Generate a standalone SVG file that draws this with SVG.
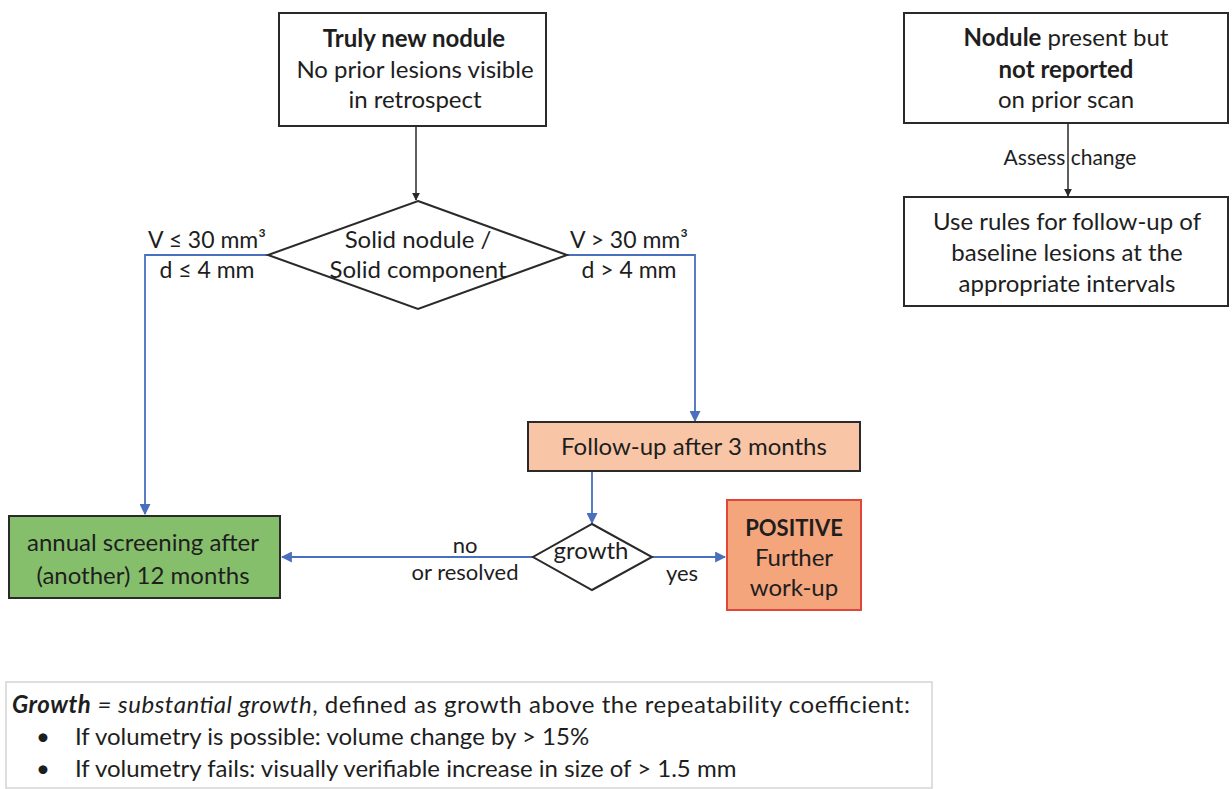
<svg xmlns="http://www.w3.org/2000/svg" width="1232" height="789" viewBox="0 0 1232 789">
<defs>
<style>
text{font-family:Lato,"Open Sans","Liberation Sans",sans-serif;fill:#1e1e1e;font-size:24px}
.c{text-anchor:middle}
.b{font-weight:bold}
.lb{font-size:23px}
.box{stroke:#2a2a2a;stroke-width:2;fill:#fff}
.blk{stroke:#2a2a2a;stroke-width:1.5;fill:none}
.blu{stroke:#4a6fbf;stroke-width:1.8;fill:none}
</style>
<marker id="ak" viewBox="0 0 10 10" refX="9" refY="5" markerWidth="8" markerHeight="8" markerUnits="userSpaceOnUse" orient="auto"><path d="M0,0 L10,5 L0,10 z" fill="#2a2a2a"/></marker>
<marker id="ab" viewBox="0 0 10 10" refX="9" refY="5" markerWidth="11" markerHeight="11" markerUnits="userSpaceOnUse" orient="auto"><path d="M0,0 L10,5 L0,10 z" fill="#4a6fbf"/></marker>
</defs>
<rect width="1232" height="789" fill="#fff"/>

<g id="connectors">
<line class="blk" x1="416" y1="126" x2="416" y2="200" marker-end="url(#ak)"/>
<line class="blk" x1="1068" y1="123" x2="1068" y2="196" marker-end="url(#ak)"/>
<polyline class="blu" points="268,255 145,255 145,514" marker-end="url(#ab)"/>
<polyline class="blu" points="567,255 695,255 695,421" marker-end="url(#ab)"/>
<line class="blu" x1="592" y1="471" x2="592" y2="523" marker-end="url(#ab)"/>
<line class="blu" x1="533" y1="557" x2="282" y2="557" marker-end="url(#ab)"/>
<line class="blu" x1="652" y1="557" x2="725" y2="557" marker-end="url(#ab)"/>
<text class="c" x="1070" y="165" style="font-size:21px">Assess  change</text>
<text class="c lb" x="207" y="248">V ≤ 30 mm³</text>
<text class="c lb" x="207" y="278">d ≤ 4 mm</text>
<text class="c lb" x="629" y="248">V &gt; 30 mm³</text>
<text class="c lb" x="629" y="278">d &gt; 4 mm</text>
<text class="c" x="465" y="553" style="font-size:22px">no</text>
<text class="c" x="465" y="580" style="font-size:22px">or resolved</text>
<text class="c" x="682" y="581" style="font-size:22px">yes</text>
</g>

<g id="n-new">
<rect class="box" x="279" y="13" width="267" height="113"/>
<text class="c b" x="414" y="47">Truly new nodule</text>
<text class="c" x="415" y="78">No prior lesions visible</text>
<text class="c" x="415" y="108">in retrospect</text>
</g>

<g id="n-notreported">
<rect class="box" x="904" y="13" width="324" height="110"/>
<text class="c" x="1066" y="46"><tspan class="b">Nodule</tspan> present but</text>
<text class="c b" x="1066" y="78">not reported</text>
<text class="c" x="1066" y="108">on prior scan</text>
</g>

<g id="n-rules">
<rect class="box" x="904" y="197" width="324" height="109"/>
<text class="c" x="1067" y="230">Use rules for follow-up of</text>
<text class="c" x="1067" y="261">baseline lesions at the</text>
<text class="c" x="1067" y="292">appropriate intervals</text>
</g>

<g id="n-solid">
<polygon class="box" points="418,201 567,255 418,309 268,255"/>
<text class="c" x="418" y="248">Solid nodule /</text>
<text class="c" x="418" y="278">Solid component</text>
</g>

<g id="n-followup">
<rect class="box" x="528" y="422" width="332" height="49" style="fill:#f8c6a6"/>
<text class="c" x="694" y="455">Follow-up after 3 months</text>
</g>

<g id="n-growth">
<polygon class="box" points="592,524 652,557 592,590 533,557"/>
<text class="c" x="591" y="559">growth</text>
</g>

<g id="n-annual">
<rect class="box" x="9" y="516" width="271" height="82" style="fill:#86bf6c"/>
<text class="c" x="143" y="551">annual screening after</text>
<text class="c" x="143" y="584">(another) 12 months</text>
</g>

<g id="n-positive">
<rect x="727" y="500" width="134" height="110" style="fill:#f4a57c;stroke:#e0463a;stroke-width:2"/>
<text class="c b" x="794" y="536" style="font-size:22px">POSITIVE</text>
<text class="c" x="794" y="566">Further</text>
<text class="c" x="794" y="596">work-up</text>
</g>

<g id="legend">
<rect x="6" y="682" width="926" height="106" style="fill:#fff;stroke:#d4d4d4;stroke-width:1.5"/>
<text x="12" y="713" textLength="898"><tspan class="b" font-style="italic">Growth</tspan><tspan font-style="italic"> = substantial growth</tspan>, defined as growth above the repeatability coefficient:</text>
<text x="36" y="745">•</text>
<text x="75" y="745">If volumetry is possible: volume change by &gt; 15%</text>
<text x="36" y="777">•</text>
<text x="75" y="777">If volumetry fails: visually verifiable increase in size of &gt; 1.5 mm</text>
</g>
</svg>
